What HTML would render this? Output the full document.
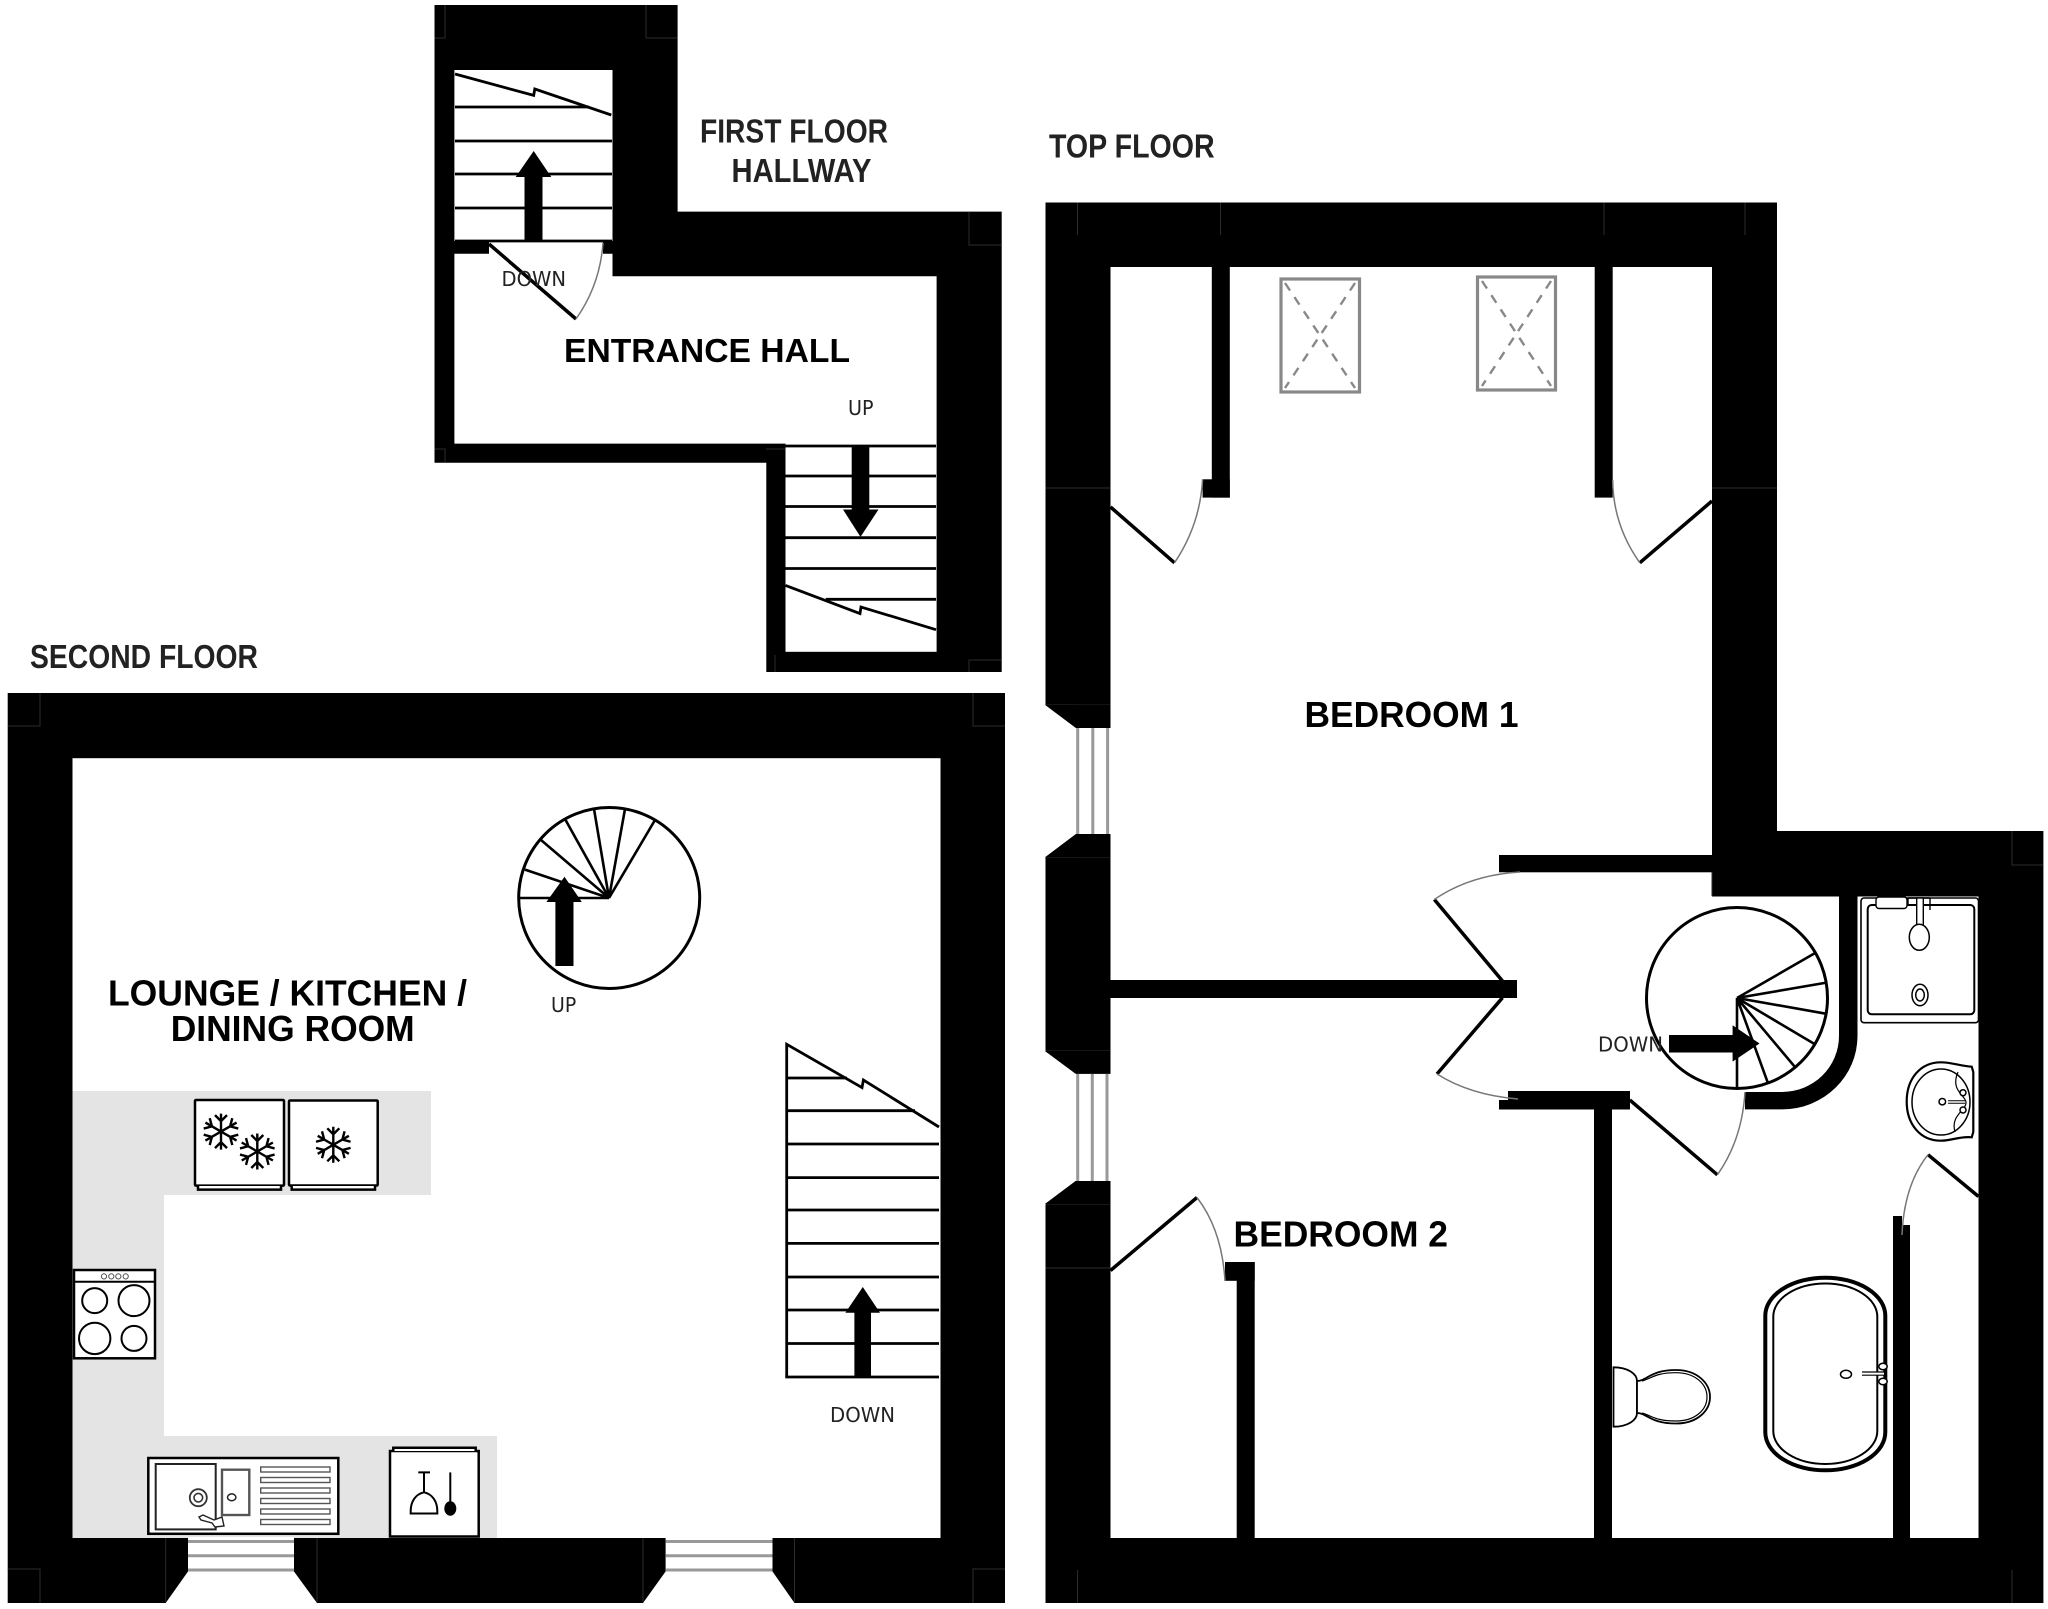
<!DOCTYPE html>
<html lang="en"><head><meta charset="utf-8"><title>Floor plan</title>
<style>
html,body{margin:0;padding:0;background:#fff}
svg{display:block}
.t{font-family:"Liberation Sans",Arial,sans-serif;font-weight:bold;font-size:36px;fill:#000}
.h{font-family:"Liberation Sans",Arial,sans-serif;font-weight:bold;font-size:33px;fill:#222}
.s{font-family:"DejaVu Sans",sans-serif;font-size:20px;fill:#222}
.st{stroke:#000;stroke-width:2.8;fill:none}
.arc{stroke:#777;stroke-width:1.5;fill:none}
.leaf{stroke:#000;stroke-width:3.5;fill:none}
.win{stroke:#999;stroke-width:3;fill:none}
.fx{stroke:#000;stroke-width:2.5;fill:#fff}
.thin{stroke:#000;stroke-width:1.5;fill:#fff}
.seam{stroke:#2b2b2b;stroke-width:1;fill:none}
</style></head><body>
<svg xmlns="http://www.w3.org/2000/svg" width="2048" height="1609" viewBox="0 0 2048 1609">
<defs>
<g id="arm"><path d="M0 0V-18M0-10.5L-6-16.5M0-10.5L6-16.5" stroke="#000" stroke-width="2.4" fill="none"/></g>
<g id="flake"><use href="#arm"/><use href="#arm" transform="rotate(60)"/><use href="#arm" transform="rotate(120)"/><use href="#arm" transform="rotate(180)"/><use href="#arm" transform="rotate(240)"/><use href="#arm" transform="rotate(300)"/></g>
</defs>
<rect width="2048" height="1609" fill="#fff"/>

<!-- FIRST FLOOR / ENTRANCE HALL -->
<polygon points="434.5,5 677.6,5 677.6,211.6 1001.7,211.6 1001.7,672 766.3,672 766.3,462.7 434.5,462.7" fill="#000"/>
<rect x="454.4" y="70" width="158.1" height="171" fill="#fff"/>
<polygon points="454.4,253.7 489,253.7 489,241 603,241 603,253.7 612.5,253.7 612.5,276.2 936.6,276.2 936.6,443.6 454.4,443.6" fill="#fff"/>
<rect x="785.5" y="443" width="151.1" height="208.8" fill="#fff"/>
<path class="seam" d="M434.5 38H445V5M646 5V38H677.6M969 211.6V245H1001.7M434.5 449H445V462.7M766 449H785M775 672V655M969 672V660H1001.7"/>
<!-- upper stairs -->
<path class="st" d="M455 107H589M455 141H612M455 174H612M455 208H612M455 241H612"/>
<path class="st" d="M455 74L533.7 95.4L534.8 89L611.3 115"/>
<polygon points="524.5,241 524.5,177 515.7,177 533.7,151 551.3,177 542.5,177 542.5,241" fill="#000"/>
<path class="leaf" d="M489 244L576 319"/>
<path class="arc" d="M576 319Q600 285 603 243"/>
<text class="s" x="501.5" y="286" textLength="64.5" lengthAdjust="spacingAndGlyphs">DOWN</text>
<!-- lower stairs -->
<path class="st" d="M785.5 446H936M785.5 476H936M785.5 506.5H936M785.5 537.7H936M785.5 568.5H936M825.7 599.3H936"/>
<path class="st" d="M785.5 585.4L860 613.6L861 607L936 629.7"/>
<polygon points="851.7,446 851.7,509.5 843,509.5 860.5,536.9 878.5,509.5 869.3,509.5 869.3,446" fill="#000"/>
<text class="s" x="848" y="415" textLength="25.5" lengthAdjust="spacingAndGlyphs">UP</text>
<text class="h" x="700" y="142.5" textLength="188" lengthAdjust="spacingAndGlyphs">FIRST FLOOR</text>
<text class="h" x="731.5" y="182" textLength="140" lengthAdjust="spacingAndGlyphs">HALLWAY</text>
<text class="t" style="font-size:33.3px" x="564" y="362" textLength="286" lengthAdjust="spacingAndGlyphs">ENTRANCE HALL</text>

<!-- SECOND FLOOR -->
<text class="h" x="30" y="668" textLength="228" lengthAdjust="spacingAndGlyphs">SECOND FLOOR</text>
<rect x="7.7" y="693" width="997.3" height="910" fill="#000"/>
<rect x="72.5" y="758.2" width="868" height="779.8" fill="#fff"/>
<path class="seam" d="M7.7 726H40V693M973 693V726H1005M7.7 1569H40V1603M973 1603V1569H1005M165.7 1538V1602M317 1538V1602M643 1538V1602M794.5 1538V1602"/>
<!-- kitchen counter -->
<polygon points="72.5,1091 431,1091 431,1195 164,1195 164,1436 497,1436 497,1538 72.5,1538" fill="#e4e4e4"/>
<!-- bottom windows -->
<polygon points="188,1537 294,1537 294,1571.5 317,1603 165.7,1603 188,1571.5" fill="#fff"/>
<polygon points="665.6,1537 772.5,1537 772.5,1571.5 794.5,1603 643,1603 665.6,1571.5" fill="#fff"/>
<path class="win" d="M188 1541.5H294M188 1555.7H294M188 1570H294M665.6 1541.5H772.5M665.6 1555.7H772.5M665.6 1570H772.5"/>
<!-- fridges -->
<rect class="fx" x="195" y="1100" width="89" height="85.6" rx="1"/>
<path d="M198 1186V1189.6H281V1186" fill="#fff" stroke="#000" stroke-width="2.5"/>
<rect class="fx" x="289" y="1100.5" width="88.7" height="85" rx="1"/>
<path d="M291.7 1186V1189.6H375V1186" fill="#fff" stroke="#000" stroke-width="2.5"/>
<use href="#flake" x="221" y="1131.6"/><use href="#flake" x="257.3" y="1151.5"/><use href="#flake" x="333.3" y="1144.8"/>
<!-- cooker -->
<rect class="fx" x="74" y="1270" width="81" height="88.3"/>
<path d="M74 1281.8H155" stroke="#000" stroke-width="2"/>
<g fill="#fff" stroke="#555" stroke-width="1"><circle cx="104" cy="1276.4" r="2.6"/><circle cx="111.3" cy="1276.4" r="2.6"/><circle cx="118.3" cy="1276.4" r="2.6"/><circle cx="125.7" cy="1276.4" r="2.6"/></g>
<g fill="#fff" stroke="#000" stroke-width="2"><circle cx="94.7" cy="1300.6" r="12.5"/><circle cx="134" cy="1300.6" r="15.5"/><circle cx="94.7" cy="1338.4" r="15.7"/><circle cx="134" cy="1338.4" r="12.5"/></g>
<!-- sink -->
<rect class="fx" x="148.3" y="1458" width="190" height="75.8"/>
<rect x="155.7" y="1464" width="60" height="65.4" fill="#fff" stroke="#222" stroke-width="2"/>
<rect x="222" y="1469.7" width="27.3" height="45.3" fill="#fff" stroke="#555" stroke-width="2.4"/>
<circle cx="198.3" cy="1497.7" r="8.5" fill="#fff" stroke="#333" stroke-width="1.8"/><circle cx="198.3" cy="1497.7" r="4.3" fill="#fff" stroke="#333" stroke-width="1.6"/>
<ellipse cx="231.7" cy="1497.3" rx="4.2" ry="3.4" fill="#fff" stroke="#222" stroke-width="1.5"/>
<g fill="#fff" stroke="#555" stroke-width="1.4"><rect x="260.7" y="1467" width="69.3" height="5"/><rect x="260.7" y="1477.5" width="69.3" height="5"/><rect x="260.7" y="1488" width="69.3" height="5"/><rect x="260.7" y="1498.5" width="69.3" height="5"/><rect x="260.7" y="1509" width="69.3" height="5"/><rect x="260.7" y="1519.5" width="69.3" height="5"/></g>
<path d="M199 1517L203 1515L214 1520L222 1517L224 1526L215 1527L212 1523L201 1520Z" fill="#fff" stroke="#222" stroke-width="1.4"/>
<!-- dishwasher -->
<rect class="fx" x="390" y="1451" width="88.7" height="85.5"/>
<path d="M393.3 1451V1447.7H475.7V1451" fill="#fff" stroke="#000" stroke-width="2.5"/>
<path d="M418.3 1472.4H430M424 1472.4V1492.3" stroke="#000" stroke-width="2" fill="none"/>
<path d="M424 1492.3C416 1494 410.7 1501 410.7 1511V1513.5H437.3V1511C437.3 1501 432 1494 424 1492.3Z" fill="#fff" stroke="#000" stroke-width="2"/>
<path d="M450.3 1472.4V1502" stroke="#000" stroke-width="2"/>
<ellipse cx="450.3" cy="1508.5" rx="6" ry="7.2" fill="#000"/>
<!-- spiral up -->
<circle cx="609.2" cy="898" r="90.5" fill="#fff" stroke="#000" stroke-width="3"/>
<path d="M609 898H518.7M609 898L525 869.6M609 898L541 840M609 898L565 819M609 898L594 809M609 898L625 809M609 898L655 820" stroke="#000" stroke-width="2.6" fill="none"/>
<polygon points="555.4,966 555.4,902 546.4,902 564.5,876.7 581.8,902 573.5,902 573.5,966" fill="#000"/>
<text class="s" x="551" y="1011.8" textLength="25.2" lengthAdjust="spacingAndGlyphs">UP</text>
<text class="t" x="108" y="1005.3" textLength="359" lengthAdjust="spacingAndGlyphs">LOUNGE / KITCHEN /</text>
<text class="t" x="170.7" y="1041" textLength="244" lengthAdjust="spacingAndGlyphs">DINING ROOM</text>
<!-- straight stairs -->
<path class="st" d="M786.7 1377V1044.3L862 1087.6L863.4 1080L939 1127"/>
<path class="st" d="M786.7 1078H847M786.7 1110.7H915M786.7 1144H939M786.7 1177.6H939M786.7 1210H939M786.7 1243.4H939M786.7 1277H939M786.7 1310H939M786.7 1343.5H939M785.3 1377H939"/>
<polygon points="854.4,1377 854.4,1312.7 845.4,1312.7 862.8,1287 880,1312.7 871,1312.7 871,1377" fill="#000"/>
<text class="s" x="830" y="1422" textLength="65" lengthAdjust="spacingAndGlyphs">DOWN</text>

<!-- TOP FLOOR -->
<text class="h" x="1049" y="157.5" textLength="165.6" lengthAdjust="spacingAndGlyphs">TOP FLOOR</text>
<polygon points="1045.5,202.5 1777,202.5 1777,831 2043.4,831 2043.4,1603 1045.5,1603" fill="#000"/>
<polygon points="1110.5,267 1712,267 1712,896.5 1978.5,896.5 1978.5,1538 1110.5,1538" fill="#fff"/>
<path class="seam" d="M1077.5 202.5V235M1220.5 202.5V235M1604 202.5V235M1745 202.5V235M1045.5 488H1110M1712 488H1777M1045.5 704.7H1110M1045.5 857.4H1110M1045.5 1051H1110M1045.5 1204H1110M1045.5 1268H1110M1077.5 1570V1603M1712 860V896M2012 831V865H2043M2012 1570V1603"/>
<!-- left windows -->
<polygon points="1045,704.7 1076,728 1110.5,728 1110.5,834 1076,834 1045,857.4" fill="#fff"/>
<polygon points="1045,1051 1075.7,1073.8 1110.5,1073.8 1110.5,1181 1075.7,1181 1045,1204" fill="#fff"/>
<path class="win" d="M1077.7 728V834M1092.8 728V834M1107.6 728V834M1077.7 1073.8V1181M1092.3 1073.8V1181M1107 1073.8V1181"/>
<rect x="1076" y="704.7" width="34.5" height="23.3" fill="#000"/>
<polygon points="1045,704.7 1076,704.7 1076,728" fill="#000"/>
<rect x="1076" y="834" width="34.5" height="23.4" fill="#000"/>
<polygon points="1045,857.4 1076,857.4 1076,834" fill="#000"/>
<rect x="1075.7" y="1051" width="34.8" height="22.8" fill="#000"/>
<polygon points="1045,1051 1075.7,1051 1075.7,1073.8" fill="#000"/>
<rect x="1075.7" y="1181" width="34.8" height="23" fill="#000"/>
<polygon points="1045,1204 1075.7,1204 1075.7,1181" fill="#000"/>
<!-- outer flare remains white: cut the triangle outside the chamfer -->
<polygon points="1044,706 1074,728.5 1044,728.5" fill="#fff"/>
<polygon points="1044,856 1074,833.5 1044,833.5" fill="#fff"/>
<polygon points="1044,1052 1074,1073.5 1044,1073.5" fill="#fff"/>
<polygon points="1044,1203 1074,1181.5 1044,1181.5" fill="#fff"/>
<rect x="1044" y="728" width="32" height="106" fill="#fff"/>
<rect x="1044" y="1073.8" width="31.7" height="107.2" fill="#fff"/>
<!-- partitions -->
<g fill="#000">
<rect x="1211.8" y="267" width="18" height="230.6"/>
<rect x="1202.6" y="479.3" width="27.2" height="18.3"/>
<rect x="1594.7" y="267" width="18" height="230.6"/>
<rect x="1499" y="855" width="215" height="17.3"/>
<rect x="1110" y="980" width="407" height="18"/>
<rect x="1508" y="1091" width="122" height="18.5"/>
<rect x="1499" y="1100" width="11" height="9.5"/>
<rect x="1594" y="1091" width="18" height="447"/>
<rect x="1236.7" y="1262" width="18" height="276"/>
<rect x="1225" y="1262" width="29.7" height="18.8"/>
<rect x="1893" y="1225" width="17" height="313"/>
<rect x="1893" y="1216" width="9" height="10"/>
<path d="M1839 896V1036A57 56 0 0 1 1782 1092H1745V1109.4H1782A75.5 73.4 0 0 0 1857.5 1036V896Z"/>
</g>
<!-- doors -->
<path class="leaf" d="M1110.5 507L1174.5 562.8M1712 501L1639.8 562.8M1502.5 981L1434.3 899.5M1502.5 997.7L1437 1074M1629.8 1100L1717.4 1174.8M1978.5 1196.5L1928 1154.7M1110.5 1270.5L1197 1197.5"/>
<path class="arc" d="M1174.5 562.8Q1200 525 1202.6 479.3M1639.8 562.8Q1613 525 1612.7 480M1434.3 899.5Q1470 875 1520 872M1437 1074Q1470 1095 1518 1099M1717.4 1174.8Q1742 1140 1745 1092M1928 1154.7Q1904 1185 1902 1235M1197 1197.5Q1222 1230 1225 1281"/>
<!-- skylights -->
<g fill="none" stroke="#888">
<rect x="1281" y="279" width="78.5" height="113" stroke-width="3.2"/>
<rect x="1477.5" y="277" width="78" height="113" stroke-width="3.2"/>
<path d="M1285 283L1355 388M1355 283L1285 388M1482 281L1551 386M1551 281L1482 386" stroke-width="2.4" stroke-dasharray="9 8"/>
</g>
<text class="t" x="1304.5" y="727" textLength="214" lengthAdjust="spacingAndGlyphs">BEDROOM 1</text>
<text class="t" x="1233.5" y="1246.6" textLength="214.5" lengthAdjust="spacingAndGlyphs">BEDROOM 2</text>
<!-- spiral down -->
<circle cx="1737" cy="998" r="90.5" fill="#fff" stroke="#000" stroke-width="3"/>
<path d="M1737 998L1814.5 953.4M1737 998L1826.5 982.6M1737 998L1826.5 1013.8M1737 998L1814.5 1044M1737 998L1794.6 1066.6M1737 998L1767.8 1082.7M1737 998V1089.3" stroke="#000" stroke-width="2.6" fill="none"/>
<polygon points="1669,1035 1732.6,1035 1732.6,1025.3 1759.5,1043.5 1732.6,1061.6 1732.6,1052.5 1669,1052.5" fill="#000"/>
<text class="s" x="1598" y="1051.5" textLength="65" lengthAdjust="spacingAndGlyphs">DOWN</text>
<!-- shower -->
<rect x="1861" y="898" width="117.5" height="124.7" rx="3" fill="#fff" stroke="#000" stroke-width="1.6"/>
<rect x="1867.7" y="905" width="106.6" height="109.3" rx="4" fill="#fff" stroke="#000" stroke-width="2"/>
<rect x="1876" y="897" width="31" height="11.5" rx="3" fill="#fff" stroke="#000" stroke-width="1.4"/>
<path d="M1908 898H1930M1908 905H1930M1908 898V905M1930 898V910" stroke="#000" stroke-width="1.4" fill="none"/>
<rect x="1916.7" y="898" width="6.6" height="28" fill="#fff" stroke="#000" stroke-width="1.4"/>
<ellipse cx="1919.3" cy="937.3" rx="10" ry="13" class="thin"/>
<ellipse cx="1920" cy="995" rx="8" ry="10.7" class="thin"/>
<ellipse cx="1920" cy="995" rx="4.3" ry="6" class="thin"/>
<!-- basin -->
<path d="M1906.7 1101.5C1906.7 1079 1920 1062.3 1941 1062.3C1952 1062.3 1960 1066 1971.7 1066.7L1973.3 1072V1132L1971.7 1137.3C1960 1136 1952 1140.7 1941 1140.7C1920 1140.7 1906.7 1124 1906.7 1101.5Z" fill="#fff" stroke="#000" stroke-width="2.2"/>
<ellipse cx="1941" cy="1102" rx="29" ry="33" class="thin"/>
<path d="M1958 1072C1950 1090 1965 1095 1966 1102C1967 1110 1950 1115 1955 1132" fill="none" stroke="#000" stroke-width="1.2"/>
<ellipse cx="1942.3" cy="1101.7" rx="3.3" ry="3.2" class="thin"/>
<path d="M1948 1102H1965" stroke="#000" stroke-width="3.6"/><path d="M1948 1102H1965" stroke="#fff" stroke-width="1.4"/>
<ellipse cx="1963" cy="1092.7" rx="3" ry="3" class="thin"/><ellipse cx="1963" cy="1110" rx="3" ry="3" class="thin"/>
<!-- bath -->
<rect x="1765.3" y="1277.7" width="120" height="192.6" rx="60" ry="38" fill="#fff" stroke="#000" stroke-width="4"/>
<rect x="1773.3" y="1283.5" width="104" height="180.5" rx="52" ry="33" fill="none" stroke="#000" stroke-width="2"/>
<ellipse cx="1846" cy="1374.3" rx="5.5" ry="4" class="thin"/>
<path d="M1862 1373.6H1884" stroke="#000" stroke-width="4.4"/><path d="M1862 1373.6H1884" stroke="#fff" stroke-width="2"/>
<ellipse cx="1883" cy="1366.5" rx="4.2" ry="3.2" class="thin"/><ellipse cx="1883" cy="1381.5" rx="4.2" ry="3.2" class="thin"/>
<!-- toilet -->
<path d="M1613.5 1367.3C1628 1367.3 1637 1374 1637 1381V1413C1637 1420 1628 1426.7 1613.5 1426.7Z" fill="#fff" stroke="#000" stroke-width="1.8"/>
<path d="M1637 1381C1647 1381 1650 1370 1676 1370C1697 1370 1710 1383 1710 1397C1710 1411 1697 1423.5 1676 1423.5C1650 1423.5 1647 1413 1637 1413Z" fill="#fff" stroke="#000" stroke-width="1.8"/>
<path d="M1642 1381C1652 1378 1656 1372.7 1676 1372.7C1695 1372.7 1707 1384 1707 1397C1707 1410 1695 1421 1676 1421C1656 1421 1652 1416 1642 1413" fill="none" stroke="#000" stroke-width="1.2"/>
</svg>
</body></html>
